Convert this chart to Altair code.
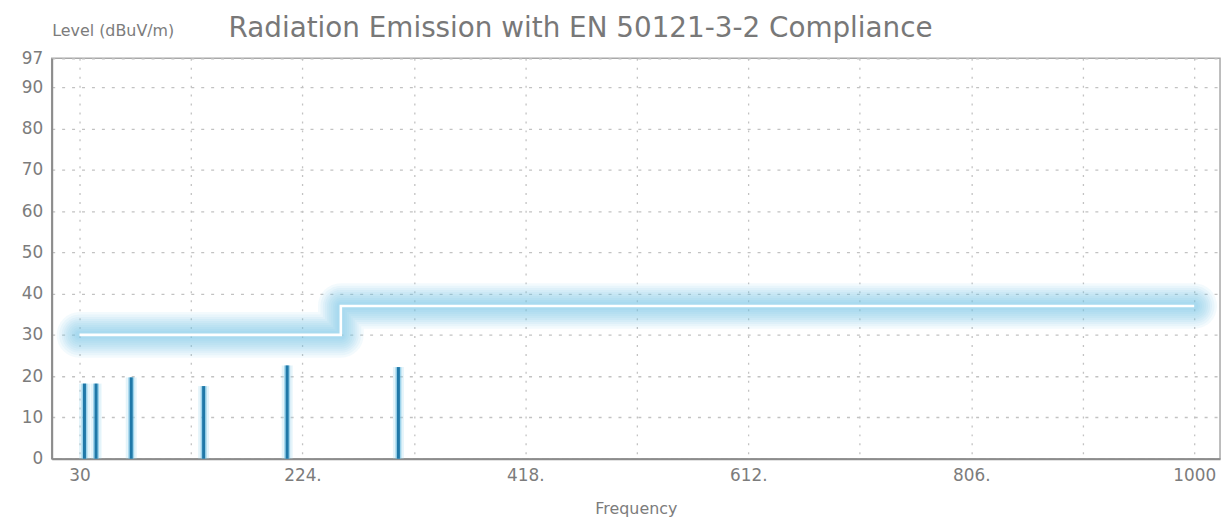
import altair as alt
import pandas as pd

# ---- data ----
spike_freq = [34.3, 44.4, 75, 138, 210.7, 307.5]
spike_level = [18.2, 18.2, 19.7, 17.6, 22.6, 22.2]
limit_freq = [30, 257.4, 1000]
limit_level = [30, 37, 37]
x_ticks = [30, 127, 224, 321, 418, 515, 612, 709, 806, 903, 1000]
x_labeled = [30, 224, 418, 612, 806, 1000]
y_ticks = [0, 10, 20, 30, 40, 50, 60, 70, 80, 90, 97]
title_text = "Radiation Emission with EN 50121-3-2 Compliance"
y_title = "Level (dBuV/m)"
x_title = "Frequency"

FONT = "DejaVu Sans"
TXT = "#7c7c7c"

spikes = pd.DataFrame({"freq": spike_freq, "level": spike_level, "base": [0] * len(spike_freq)})
limit = pd.DataFrame({"freq": limit_freq, "level": limit_level})
title_df = pd.DataFrame({"t": [title_text]})

xscale = alt.Scale(domain=[5.8, 1022.5], nice=False, zero=False)
yscale = alt.Scale(domain=[0, 97], nice=False, zero=False)

label_expr = (
    "indexof([" + ",".join(str(v) for v in x_labeled) + "], datum.value) < 0 ? '' : "
    "((datum.value == 30 || datum.value == 1000) ? '' + datum.value : datum.value + '.')"
)

x_axis = alt.Axis(
    values=x_ticks, labelExpr=label_expr, title=x_title, grid=True,
    gridColor="#c2c2c2", gridDash=[2, 7], gridWidth=1.3,
    ticks=False, domainColor="#8c8c8c", domainWidth=2,
    labelFont=FONT, labelFontSize=17, labelColor=TXT, labelPadding=9,
    labelFlush=False, labelOverlap=False,
    titleFont=FONT, titleFontSize=16, titleColor=TXT, titleFontWeight="normal",
    titleY=55, titleBaseline="alphabetic",
)
y_axis = alt.Axis(
    values=y_ticks, title=y_title, grid=True,
    gridColor="#c2c2c2", gridDash=[3, 7], gridWidth=1.3,
    ticks=False, domainColor="#8c8c8c", domainWidth=2,
    labelFont=FONT, labelFontSize=17, labelColor=TXT, labelPadding=9,
    labelOverlap=False,
    titleFont=FONT, titleFontSize=16, titleColor=TXT, titleFontWeight="normal",
    titleAngle=0, titleAlign="left", titleBaseline="alphabetic", titleX=0, titleY=-23,
)

X = lambda f: alt.X(f, scale=xscale, axis=x_axis)
Y = lambda f: alt.Y(f, scale=yscale, axis=y_axis)

layers = []

# limit line glow (soft, many faint layers)
glow_widths = [46, 41, 36, 32, 28, 24, 20, 16, 12, 8]
for w in glow_widths:
    layers.append(
        alt.Chart(limit).mark_line(
            interpolate="step-after", color="#74c3e4", strokeWidth=w, opacity=0.085,
            strokeCap="round", strokeJoin="round"
        ).encode(x=X("freq:Q"), y=Y("level:Q"))
    )

layers.append(
    alt.Chart(limit).mark_line(
        interpolate="step-after", color="#ffffff", strokeWidth=2.6, strokeCap="butt"
    ).encode(x=X("freq:Q"), y=Y("level:Q"))
)

# spikes with halo
for w, col, op in [(11, "#a5daf0", 0.3), (6, "#62b8de", 0.55), (3, "#1f78a8", 1.0)]:
    layers.append(
        alt.Chart(spikes).mark_rule(color=col, strokeWidth=w, opacity=op).encode(
            x=X("freq:Q"), y=Y("base:Q"), y2="level:Q",
        )
    )

# main title as text
layers.append(
    alt.Chart(title_df).mark_text(
        font=FONT, fontSize=28, color="#787878", align="left", baseline="alphabetic"
    ).encode(text="t:N", x=alt.value(178), y=alt.value(-21))
)

chart = alt.layer(*layers).properties(
    width=1176, height=403,
    padding={"left": 44, "top": 49, "right": 3, "bottom": 60},
    autosize="none",
).configure_view(stroke="#a8a8a8", strokeWidth=1.5)

chart.save("out.html", embed_options={"renderer": "svg", "actions": False})
